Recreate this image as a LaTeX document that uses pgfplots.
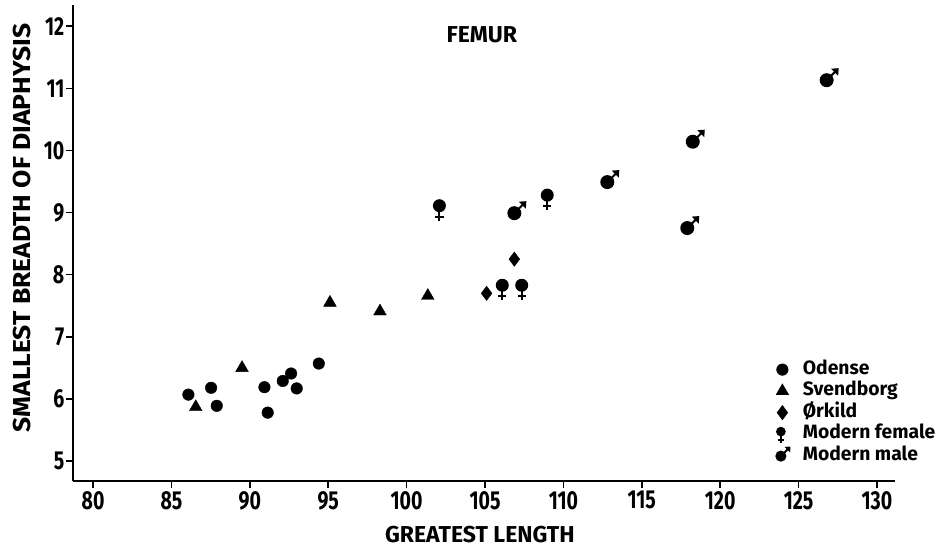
\documentclass[border=0pt]{standalone}
\usepackage{fontspec}
\setmainfont{Fira Sans}
\newfontfamily\tickfont[FakeStretch=0.75]{Fira Sans}
\newfontfamily\ylabfont[FakeStretch=1.08]{Fira Sans}
\usepackage{pgfplots}
\pgfplotsset{compat=1.18}

\pgfdeclareplotmark{female}{%
  \pgfpathcircle{\pgfpoint{0bp}{0bp}}{6.5bp}\pgfusepathqfill
  \pgfsetlinewidth{2.1bp}%
  \pgfpathmoveto{\pgfpoint{0bp}{-5bp}}\pgfpathlineto{\pgfpoint{0bp}{-15bp}}%
  \pgfpathmoveto{\pgfpoint{-4.2bp}{-11bp}}\pgfpathlineto{\pgfpoint{4.2bp}{-11bp}}%
  \pgfusepathqstroke
}
\pgfdeclareplotmark{male}{%
  \pgfpathcircle{\pgfpoint{0bp}{0bp}}{7bp}\pgfusepathqfill
  \pgfsetlinewidth{2bp}%
  \pgfpathmoveto{\pgfpoint{4bp}{4bp}}\pgfpathlineto{\pgfpoint{9bp}{9bp}}%
  \pgfusepathqstroke
  \pgfpathmoveto{\pgfpoint{12bp}{12bp}}%
  \pgfpathlineto{\pgfpoint{4.5bp}{11.5bp}}%
  \pgfpathlineto{\pgfpoint{11.5bp}{4.5bp}}%
  \pgfpathclose\pgfusepathqfill
}

\begin{document}
\begin{tikzpicture}
\useasboundingbox (-73bp,-70bp) rectangle (868bp,481bp);
\begin{axis}[
  at={(0,0)}, anchor=south west,
  scale only axis, width=822bp, height=476bp,
  xmin=78.72, xmax=131.15, ymin=4.68, ymax=12.34,
  axis lines*=left,
  axis line style={line width=1.6bp, -},
  tick align=outside,
  major tick length=7bp,
  tick style={line width=1.5bp, black},
  xtick={80,85,...,130}, ytick={5,6,...,12},
  /pgf/number format/assume math mode=true,
  ticklabel style={font=\tickfont\bfseries\fontsize{26bp}{28bp}\selectfont},
  yticklabel style={inner sep=1.5bp},
  xticklabel style={inner sep=3bp},
  xlabel={GREATEST LENGTH},
  ylabel={SMALLEST BREADTH OF DIAPHYSIS},
  xlabel style={font=\bfseries\fontsize{23bp}{26bp}\selectfont,
    at={(rel axis cs:0.495,0)}, yshift=-54bp, anchor=center},
  ylabel style={font=\ylabfont\bfseries\fontsize{24.5bp}{26bp}\selectfont,
    at={(rel axis cs:0,0.532)}, yshift=51bp, anchor=center},
  legend style={at={(rel axis cs:0.854,0.257)}, anchor=north west, draw=none, fill=none,
    font=\bfseries\fontsize{19.3bp}{21bp}\selectfont, inner sep=0pt,
    nodes={text height=13bp, text depth=4bp, inner sep=2.25bp}},
  legend cell align=left,
  legend image code/.code={\draw[#1, overlay] plot coordinates {(0bp,0bp)}; \path (-7bp,0bp) (18bp,0bp);},
]
\addplot[only marks, mark=*, mark size=5.8bp, black] coordinates {
(86.08,6.07)(87.53,6.18)(87.89,5.89)(90.93,6.19)(91.14,5.78)(92.1,6.29)(92.63,6.41)(92.99,6.17)(94.4,6.57)};
\addlegendentry{Odense}
\addplot[only marks, mark=triangle*, mark size=7.3bp, black] coordinates {
(86.55,5.87)(89.5,6.50)(95.11,7.55)(98.3,7.41)(101.35,7.66)};
\addlegendentry{Svendborg}
\addplot[only marks, mark=diamond*, mark size=7.2bp, black] coordinates {
(105.1,7.70)(106.87,8.25)};
\addlegendentry{Ørkild}
\addplot[only marks, mark=female, black,
  legend image post style={mark options={xshift=-1.5bp, yshift=2.5bp, scale=0.75}}] coordinates {
(102.09,9.11)(106.1,7.83)(107.34,7.83)(108.97,9.28)};
\addlegendentry{Modern female}
\addplot[only marks, mark=male, black,
  legend image post style={mark options={xshift=-1.5bp, yshift=-0.5bp, scale=0.8}}] coordinates {
(106.87,8.99)(112.8,9.49)(118.25,10.14)(117.9,8.75)(126.79,11.13)};
\addlegendentry{Modern male}
\node[font=\bfseries\fontsize{23bp}{26bp}\selectfont] at (axis cs:104.8,11.86) {FEMUR};
\end{axis}
\end{tikzpicture}
\end{document}
